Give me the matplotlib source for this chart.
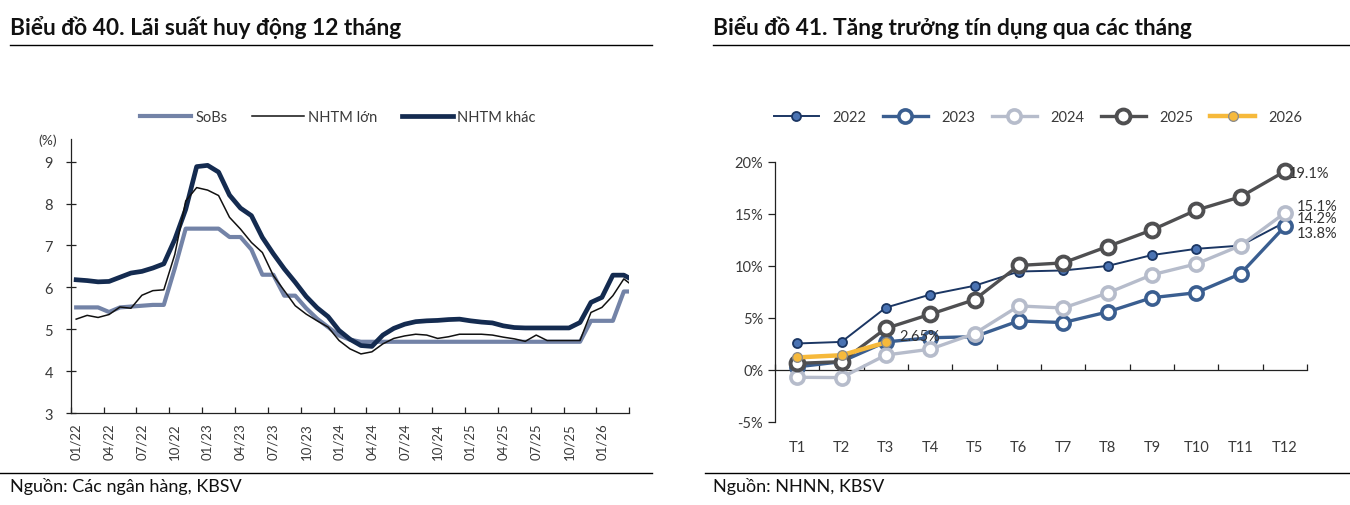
import matplotlib
matplotlib.use('Agg')
import matplotlib.pyplot as plt
from matplotlib.lines import Line2D
from matplotlib.ticker import FixedLocator, FuncFormatter, NullFormatter

plt.rcParams['font.family'] = ['Lato', 'DejaVu Sans']

# ---------------- Left chart data (monthly, 01/22 ...) ----------------
sobs = [5.52, 5.52, 5.52, 5.41, 5.52, 5.54, 5.56, 5.58, 5.58, 6.45,
        7.4, 7.4, 7.4, 7.4, 7.2, 7.2, 6.9, 6.3, 6.3, 5.8,
        5.8, 5.5, 5.25, 5.05, 4.85, 4.75, 4.7, 4.7, 4.7, 4.7,
        4.7, 4.7, 4.7, 4.7, 4.7, 4.7, 4.7, 4.7, 4.7, 4.7,
        4.7, 4.7, 4.7, 4.7, 4.7, 4.7, 4.7, 5.2, 5.2, 5.2,
        5.9, 5.9]
nhtm_lon = [5.24, 5.33, 5.28, 5.35, 5.53, 5.50, 5.81, 5.92, 5.94, 6.78,
            8.06, 8.38, 8.32, 8.19, 7.67, 7.39, 7.07, 6.83, 6.28, 5.92,
            5.56, 5.36, 5.20, 5.05, 4.73, 4.53, 4.41, 4.46, 4.65, 4.78,
            4.84, 4.88, 4.86, 4.78, 4.82, 4.88, 4.88, 4.88, 4.86, 4.81,
            4.77, 4.71, 4.86, 4.73, 4.73, 4.73, 4.73, 5.40, 5.52, 5.80,
            6.20, 6.00]
nhtm_khac = [6.18, 6.16, 6.13, 6.14, 6.24, 6.34, 6.38, 6.46, 6.56, 7.14,
             7.86, 8.88, 8.91, 8.75, 8.20, 7.89, 7.71, 7.19, 6.80, 6.44,
             6.12, 5.78, 5.51, 5.30, 4.97, 4.76, 4.61, 4.59, 4.86, 5.02,
             5.12, 5.18, 5.20, 5.21, 5.23, 5.24, 5.20, 5.17, 5.15, 5.08,
             5.04, 5.03, 5.03, 5.03, 5.03, 5.03, 5.16, 5.64, 5.76, 6.29,
             6.29, 6.15]
left_tick_labels = ['01/22', '04/22', '07/22', '10/22', '01/23', '04/23',
                    '07/23', '10/23', '01/24', '04/24', '07/24', '10/24',
                    '01/25', '04/25', '07/25', '10/25', '01/26']
left_yticks = [3, 4, 5, 6, 7, 8, 9]

# ---------------- Right chart data ----------------
months_r = ['T1', 'T2', 'T3', 'T4', 'T5', 'T6', 'T7', 'T8', 'T9', 'T10', 'T11', 'T12']
y2022 = [2.55, 2.7, 6.0, 7.25, 8.1, 9.47, 9.57, 10.0, 11.05, 11.65, 11.96, 14.2]
y2023 = [0.3, 0.8, 2.7, 3.1, 3.2, 4.72, 4.56, 5.58, 6.95, 7.43, 9.25, 13.8]
y2024 = [-0.7, -0.73, 1.44, 2.0, 3.5, 6.16, 5.96, 7.4, 9.15, 10.2, 11.96, 15.1]
y2025 = [0.64, 0.8, 4.0, 5.36, 6.76, 10.05, 10.3, 11.87, 13.46, 15.37, 16.65, 19.1]
y2026 = [1.21, 1.42, 2.65]
right_yticks = [-5, 0, 5, 10, 15, 20]

W, H = 1350, 506
fig = plt.figure(figsize=(W / 100, H / 100), dpi=100)

def fx(px):
    return px / W

def fy(py):
    return 1 - py / H

def hline(x0, x1, y, lw=1.0):
    fig.add_artist(Line2D([fx(x0), fx(x1)], [fy(y), fy(y)], transform=fig.transFigure,
                          color='black', lw=lw))

# Titles and rules
fig.text(fx(10), fy(28), 'Biểu đồ 40. Lãi suất huy động 12 tháng', fontsize=16.4,
         fontweight='bold', va='center', ha='left', color='#111111')
fig.text(fx(713), fy(28), 'Biểu đồ 41. Tăng trưởng tín dụng qua các tháng', fontsize=16.4,
         fontweight='bold', va='center', ha='left', color='#111111')
hline(10, 652, 46)
hline(713, 1350, 46)
hline(0, 652, 474)
hline(705, 1350, 474)
fig.text(fx(10), fy(487), 'Nguồn: Các ngân hàng, KBSV', fontsize=13, va='center', ha='left',
         color='#111111')
fig.text(fx(713), fy(487), 'Nguồn: NHNN, KBSV', fontsize=13, va='center', ha='left',
         color='#111111')

tick_color = '#3a3a3a'

# ---------------- Left axes ----------------
axL = fig.add_axes([fx(70.7), fy(414), fx(629.3) - fx(70.7), fy(140) - fy(414)])
x = list(range(len(sobs)))
axL.plot(x, sobs, color='#7383a7', lw=3.0, solid_joinstyle='round', label='SoBs', zorder=2)
axL.plot(x, nhtm_khac, color='#142b50', lw=3.4, solid_joinstyle='round', label='NHTM khác', zorder=3)
axL.plot(x, nhtm_lon, color='#111111', lw=1.1, label='NHTM lớn', zorder=4)
axL.set_xlim(-0.5, 50.5)
axL.set_ylim(3, 3 + (414 - 140) / 41.9)
for s in ['top', 'right']:
    axL.spines[s].set_visible(False)
for s in ['left', 'bottom']:
    axL.spines[s].set_color('#222222')
    axL.spines[s].set_linewidth(0.9)
axL.yaxis.set_major_locator(FixedLocator(left_yticks))
axL.tick_params(axis='y', direction='inout', length=6.5, width=0.9, pad=9.5,
                labelsize=10.5, colors='#222222', labelcolor=tick_color)
major_x = [3 * k for k in range(len(left_tick_labels))]
axL.xaxis.set_major_locator(FixedLocator(major_x))
axL.set_xticklabels(left_tick_labels, rotation=90)
axL.xaxis.set_minor_locator(FixedLocator([m - 0.5 for m in range(0, 52, 3)]))
axL.tick_params(axis='x', which='major', length=0, pad=7, labelsize=9.5, labelcolor=tick_color)
axL.tick_params(axis='x', which='minor', direction='in', length=4, width=0.9, colors='#222222')
fig.text(fx(48), fy(141), '(%)', fontsize=10, ha='center', va='center', color=tick_color)

h1, l1 = axL.get_legend_handles_labels()
order = [0, 2, 1]
fig.legend([h1[i] for i in order], [l1[i] for i in order], loc='center',
           bbox_to_anchor=(fx(338), fy(118)), ncol=3, frameon=False, fontsize=10.5,
           handlelength=3.5, handletextpad=0.3, columnspacing=1.7, labelcolor=tick_color)

# ---------------- Right axes ----------------
axR = fig.add_axes([fx(775), fy(423), fx(1307) - fx(775), fy(163) - fy(423)])
xr = list(range(len(months_r)))
axR.plot(xr, y2022, color='#1b3663', lw=1.4, marker='o', ms=6.5, mfc='#4a73b3', mec='#1b3663',
         mew=1.3, label='2022', zorder=3)
axR.plot(xr, y2023, color='#3a5e90', lw=2.4, marker='o', ms=9.5, mfc='white', mec='#3a5e90',
         mew=2.6, label='2023', zorder=4)
axR.plot(xr, y2024, color='#b6bccb', lw=2.4, marker='o', ms=9.5, mfc='white', mec='#b6bccb',
         mew=2.6, label='2024', zorder=5)
axR.plot(xr, y2025, color='#4f4f51', lw=2.4, marker='o', ms=10, mfc='white', mec='#4f4f51',
         mew=2.8, label='2025', zorder=6)
axR.plot(xr[:len(y2026)], y2026, color='#f6b93b', lw=3.2, marker='o', ms=7, mfc='#f6b93b',
         mec='#8a8a8a', mew=0.9, label='2026', zorder=7)
axR.set_xlim(-0.5, 11.5)
axR.set_ylim(-5, 20)
for s in ['top', 'right', 'bottom']:
    axR.spines[s].set_visible(False)
axR.spines['left'].set_color('#222222')
axR.spines['left'].set_linewidth(0.9)
axR.yaxis.set_major_locator(FixedLocator(right_yticks))
axR.yaxis.set_major_formatter(FuncFormatter(lambda v, p: f'{v:.0f}%'))
axR.tick_params(axis='y', direction='out', length=5, width=0.9, pad=3.5,
                labelsize=10.5, colors='#222222', labelcolor=tick_color)
axR.set_xticks(xr)
axR.set_xticklabels(months_r)
axR.tick_params(axis='x', length=0, pad=13, labelsize=10.5, labelcolor=tick_color)
sec = axR.secondary_xaxis(0.2)
sec.spines['bottom'].set_color('#222222')
sec.spines['bottom'].set_linewidth(0.9)
sec.xaxis.set_major_locator(FixedLocator([k - 0.5 for k in range(13)]))
sec.xaxis.set_major_formatter(NullFormatter())
sec.tick_params(axis='x', direction='in', length=4, width=0.9, colors='#222222')

lab_kw = dict(textcoords='offset points', fontsize=10.5, color='#333333', va='center',
              ha='left', zorder=10)
axR.annotate(f'{y2025[-1]:.1f}%', (11, y2025[-1]), xytext=(2.5, -1), **lab_kw)
axR.annotate(f'{y2024[-1]:.1f}%', (11, y2024[-1]), xytext=(8.5, 5), **lab_kw)
axR.annotate(f'{y2022[-1]:.1f}%', (11, y2022[-1]), xytext=(8.5, 3), **lab_kw)
axR.annotate(f'{y2023[-1]:.1f}%', (11, y2023[-1]), xytext=(8.5, -4.5), **lab_kw)
axR.annotate(f'{y2026[-1]:.2f}%', (2, y2026[-1]), xytext=(10, 4.5), **lab_kw)

h2, l2 = axR.get_legend_handles_labels()
fig.legend(h2, l2, loc='center', bbox_to_anchor=(fx(1038), fy(118)), ncol=5, frameon=False,
           fontsize=10.5, handlelength=3.1, handletextpad=0.9, columnspacing=1.15,
           labelcolor=tick_color)

fig.savefig('out.png', dpi=100)
